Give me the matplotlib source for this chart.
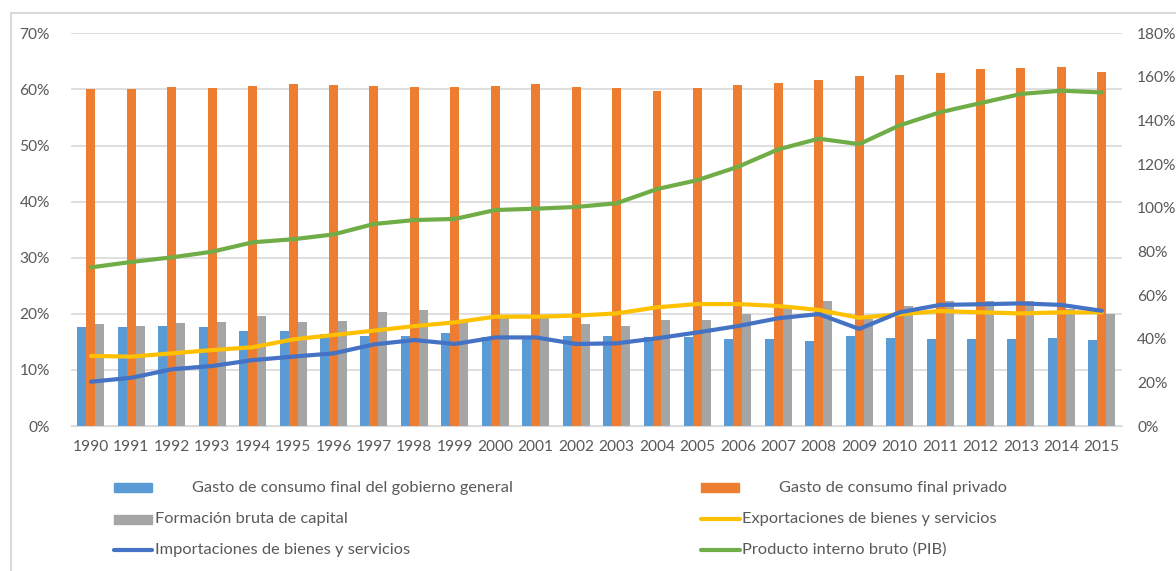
import matplotlib
matplotlib.use("Agg")
import matplotlib.pyplot as plt
import numpy as np
from matplotlib.patches import Rectangle
from matplotlib.lines import Line2D
from matplotlib.ticker import FuncFormatter

plt.rcParams['font.family'] = ['Lato', 'DejaVu Sans']

years = [str(y) for y in range(1990, 2016)]

gov = [17.6, 17.6, 17.8, 17.6, 16.9, 16.9, 16.4, 16.0, 16.1, 16.5, 15.9, 16.0, 16.1, 16.1,
       15.8, 15.8, 15.5, 15.5, 15.2, 16.1, 15.6, 15.5, 15.5, 15.5, 15.6, 15.3]
priv = [60.1, 60.1, 60.4, 60.2, 60.6, 61.0, 60.8, 60.6, 60.4, 60.4, 60.6, 61.0, 60.4, 60.2,
        59.8, 60.2, 60.8, 61.1, 61.6, 62.4, 62.6, 62.9, 63.6, 63.9, 64.0, 63.1]
capital = [18.1, 17.9, 18.4, 18.6, 19.6, 18.6, 18.8, 20.4, 20.6, 18.6, 19.2, 19.2, 18.2, 17.9,
           18.9, 18.9, 19.9, 21.0, 22.3, 19.0, 21.4, 22.3, 22.2, 22.2, 20.9, 19.9]

exports = [32.1, 31.8, 33.3, 34.8, 36.1, 39.7, 41.7, 43.7, 45.8, 47.5, 50.1, 50.1, 50.6, 51.6,
           54.4, 55.9, 55.9, 55.0, 53.2, 49.6, 51.2, 52.7, 52.1, 51.6, 52.1, 52.1]
imports = [20.3, 22.1, 26.0, 27.5, 30.2, 31.8, 33.3, 37.4, 39.4, 37.6, 40.6, 40.6, 37.6, 37.9,
           40.2, 42.9, 45.8, 49.4, 51.3, 44.5, 52.1, 55.5, 55.8, 56.2, 55.5, 52.8]
pib = [72.7, 75.2, 77.3, 79.9, 84.2, 85.6, 87.8, 92.6, 94.4, 94.9, 99.0, 99.6, 100.4, 102.1,
       108.6, 112.7, 118.8, 126.8, 131.7, 129.2, 137.8, 143.8, 148.0, 152.2, 153.7, 152.9]

labels = ["Gasto de consumo final del gobierno general", "Gasto de consumo final privado",
          "Formación bruta de capital", "Exportaciones de bienes y servicios",
          "Importaciones de bienes y servicios", "Producto interno bruto (PIB)"]

c_gov, c_priv, c_cap = "#5B9BD5", "#ED7D31", "#A5A5A5"
c_exp, c_imp, c_pib = "#FFC000", "#4472C4", "#70AD47"
tcol = "#595959"
grid = "#D9D9D9"

W, H = 1176, 571
fig = plt.figure(figsize=(W / 100, H / 100), dpi=100)

def fx(px):
    return px / W

def fy(py):
    return 1 - py / H

ax = fig.add_axes([fx(70.7), fy(426), fx(1122) - fx(70.7), fy(33.3) - fy(426)])
ax2 = ax.twinx()

x = np.arange(len(years))
bw = 0.222
ax.bar(x - bw, gov, bw, color=c_gov, zorder=2)
ax.bar(x, priv, bw, color=c_priv, zorder=2)
ax.bar(x + bw, capital, bw, color=c_cap, zorder=2)

ax.set_xlim(-0.5, len(years) - 0.5)
ax.set_ylim(0, 70)
ax.set_yticks(np.arange(0, 71, 10))
ax.yaxis.set_major_formatter(FuncFormatter(lambda v, p: f"{v:.0f}%"))
ax.set_xticks(x)
ax.set_xticklabels(years)
ax.grid(axis='y', color=grid, lw=1.2, zorder=0)
ax.set_axisbelow(True)

for a in (ax, ax2):
    for s in a.spines.values():
        s.set_visible(False)
    a.tick_params(length=0, colors=tcol, labelsize=11.2)
ax.spines['bottom'].set_visible(True)
ax.spines['bottom'].set_color(grid)
ax.tick_params(axis='x', pad=10)
ax.tick_params(axis='y', pad=15)
ax2.tick_params(axis='y', pad=11)

ax2.plot(x, exports, color=c_exp, lw=3, solid_capstyle='round', zorder=3)
ax2.plot(x, imports, color=c_imp, lw=3, solid_capstyle='round', zorder=3)
ax2.plot(x, pib, color=c_pib, lw=3, solid_capstyle='round', zorder=3)
ax2.set_ylim(0, 180)
ax2.set_yticks(np.arange(0, 181, 20))
ax2.yaxis.set_major_formatter(FuncFormatter(lambda v, p: f"{v:.0f}%"))

# outer chart border
fig.add_artist(Line2D([fx(11), fx(11)], [fy(13), 0], color=grid, lw=1.5))
fig.add_artist(Line2D([fx(11), 1], [fy(13), fy(13)], color=grid, lw=1.5))

# legend (drawn manually to match the layout)
fs = 11.8
def patch(x0, x1, yc, col):
    fig.add_artist(Rectangle((fx(x0), fy(yc + 4.5)), fx(x1) - fx(x0), fy(yc - 4.5) - fy(yc + 4.5),
                             color=col, transform=fig.transFigure))

def lline(x0, x1, yc, col):
    fig.add_artist(Line2D([fx(x0), fx(x1)], [fy(yc), fy(yc)], color=col, lw=3,
                          solid_capstyle='round'))

def ltext(x0, yc, s):
    fig.text(fx(x0), fy(yc), s, color=tcol, fontsize=fs, va='center', ha='left')

patch(114, 151.5, 487.5, c_gov); ltext(192, 488, labels[0])
patch(114, 151.5, 519.5, c_cap); ltext(155, 519.5, labels[2])
lline(113.5, 152, 550, c_imp); ltext(155, 550, labels[4])
patch(701, 739, 487.5, c_priv); ltext(779, 488, labels[1])
lline(700.5, 740, 519, c_exp); ltext(742, 519.5, labels[3])
lline(700.5, 740, 550, c_pib); ltext(742, 550, labels[5])

fig.savefig("out.png", dpi=100, facecolor="white")
